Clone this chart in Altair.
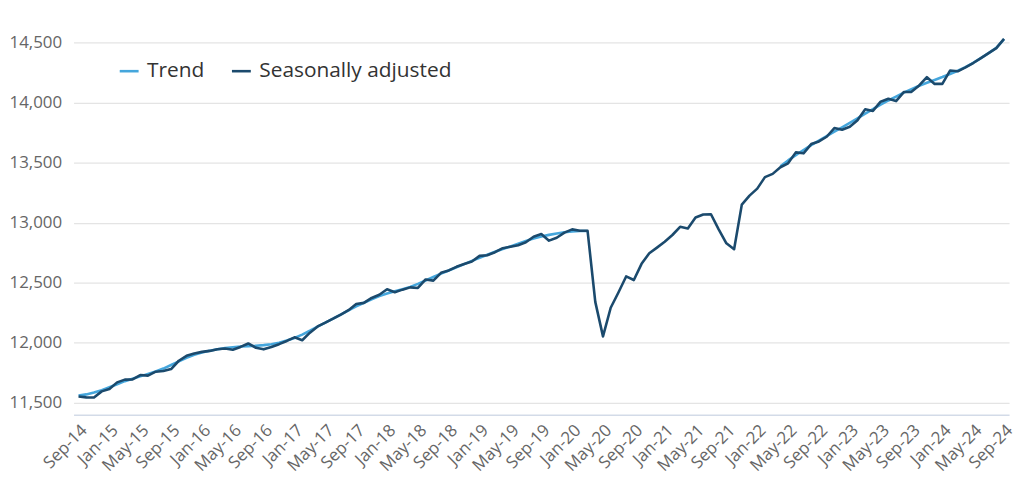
import altair as alt
import pandas as pd

# Monthly labels Sep-14 .. Sep-24
months = [d.strftime("%b-%y") for d in pd.date_range("2014-09-01", "2024-09-01", freq="MS")]

seasonally_adjusted = [
    11552, 11545, 11544, 11595, 11615, 11670, 11693, 11695, 11731, 11726,
    11759, 11764, 11781, 11850, 11891, 11911, 11924, 11932, 11946, 11952,
    11942, 11965, 11994, 11958, 11945, 11964, 11988, 12015, 12045, 12021,
    12084, 12136, 12167, 12200, 12235, 12271, 12322, 12332, 12373, 12400,
    12445, 12420, 12442, 12461, 12456, 12527, 12517, 12582, 12602, 12632,
    12655, 12676, 12723, 12729, 12754, 12787, 12800, 12812, 12836, 12883,
    12905, 12850, 12874, 12917, 12944, 12932, 12932, 12340, 12053, 12291,
    12418, 12552, 12522, 12657, 12745, 12792, 12841, 12897, 12965, 12952,
    13043, 13068, 13070, 12944, 12828, 12779, 13150, 13225, 13283, 13379,
    13406, 13461, 13494, 13585, 13577, 13654, 13676, 13715, 13787, 13773,
    13798, 13853, 13944, 13930, 14007, 14031, 14012, 14087, 14089, 14142,
    14211, 14155, 14155, 14266, 14260, 14293, 14329, 14370, 14411, 14453,
    14530,
]

trend_part1 = [
    11560, 11570, 11585, 11605, 11630, 11655, 11680, 11700, 11720, 11740,
    11760, 11785, 11815, 11845, 11875, 11900, 11918, 11933, 11945, 11955,
    11962, 11968, 11972, 11975, 11980, 11988, 12000, 12018, 12040, 12068,
    12100, 12135, 12168, 12200, 12235, 12270, 12303, 12333, 12362, 12388,
    12410, 12428, 12445, 12465, 12490, 12518, 12547, 12575, 12602, 12628,
    12655, 12682, 12708, 12733, 12757, 12780, 12802, 12825, 12848, 12868,
    12885, 12898, 12910, 12920, 12927, 12930, 12930,
]  # Sep-14 .. Mar-20

trend_part2 = [
    13470, 13518, 13562, 13605, 13645, 13683, 13720, 13757, 13793, 13830,
    13868, 13907, 13945, 13982, 14017, 14050, 14082, 14112, 14140, 14165,
    14188, 14212, 14238, 14265, 14295, 14330, 14370, 14412, 14455, 14528,
]  # Apr-22 .. Sep-24

y_ticks = [11500, 12000, 12500, 13000, 13500, 14000, 14500]

rows = []
for i, (m, v) in enumerate(zip(months, seasonally_adjusted)):
    rows.append({"month": m, "idx": i, "value": v, "series": "Seasonally adjusted", "seg": "sa"})
for i, (m, v) in enumerate(zip(months[:len(trend_part1)], trend_part1)):
    rows.append({"month": m, "idx": i, "value": v, "series": "Trend", "seg": "t1"})
off = len(months) - len(trend_part2)
for i, (m, v) in enumerate(zip(months[off:], trend_part2)):
    rows.append({"month": m, "idx": off + i, "value": v, "series": "Trend", "seg": "t2"})
df = pd.DataFrame(rows)

FONT = "Open Sans"

x_enc = alt.X(
    "month:O",
    sort=months,
    scale=alt.Scale(type="point", padding=0.65),
    axis=alt.Axis(
        values=months[::4], labelAngle=-45, title=None, ticks=False,
        domainColor="#d3dbe8", domainWidth=1.5, labelFontSize=17,
        labelColor="#666666", labelPadding=7, labelFont=FONT, grid=False,
    ),
)
y_enc = alt.Y(
    "value:Q",
    scale=alt.Scale(domain=[11400, 14600], nice=False, zero=False),
    axis=alt.Axis(
        values=y_ticks, format=",.0f", title=None, ticks=False, domain=False,
        gridColor="#e4e4e4", gridWidth=1.2, labelFontSize=17,
        labelColor="#666666", labelPadding=12, labelFont=FONT,
    ),
)
color_enc = alt.Color(
    "series:N",
    scale=alt.Scale(domain=["Trend", "Seasonally adjusted"], range=["#45a6dc", "#1b4a6d"]),
    legend=alt.Legend(
        title=None, orient="none", legendX=45, legendY=30, direction="horizontal",
        symbolType="stroke", symbolSize=361, symbolStrokeWidth=2.6,
        labelFontSize=21, labelFont=FONT, labelColor="#333333", labelLimit=400,
        labelOffset=7, columnPadding=22, padding=0,
    ),
)

base = alt.Chart(df).mark_line(strokeWidth=2.6, strokeJoin="round").encode(
    x=x_enc, y=y_enc, color=color_enc, detail="seg:N", order="idx:Q",
)

trend = base.transform_filter(alt.datum.series == "Trend")
sa = base.transform_filter(alt.datum.series == "Seasonally adjusted")

chart = alt.layer(trend, sa).properties(
    width=942, height=387,
    padding={"left": 0, "top": 21, "right": 0, "bottom": 0},
).configure_view(stroke=None)

chart.save("out.html", embed_options={"renderer": "svg", "actions": False})
